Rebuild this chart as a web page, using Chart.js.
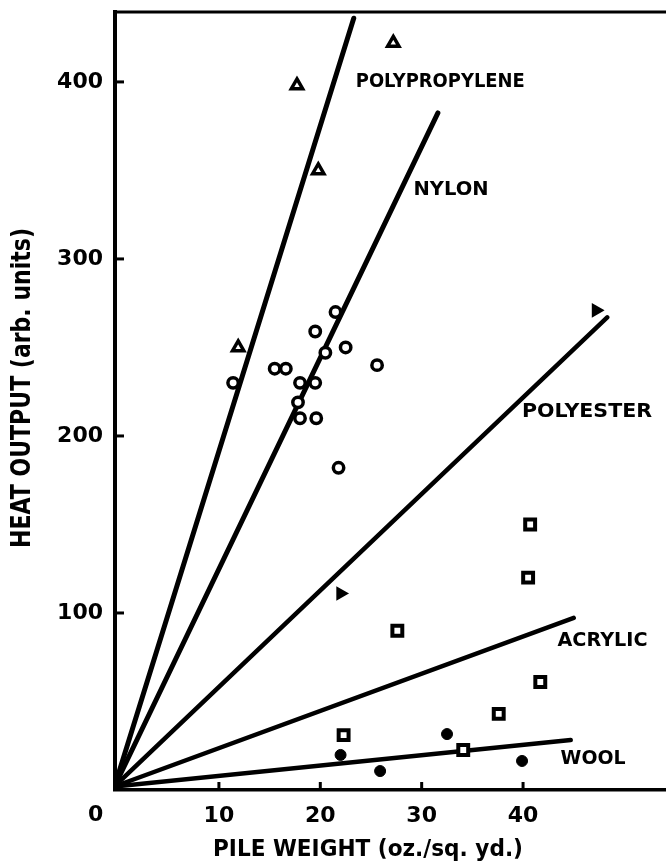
<!DOCTYPE html>
<html><head><meta charset="utf-8">
<script src="https://cdn.jsdelivr.net/npm/chart.js@4/dist/chart.umd.min.js"></script>
<style>html,body{margin:0;padding:0;background:#fff}canvas{display:block}</style>
</head><body>
<canvas id="c" width="666" height="864"></canvas>
<script>
// ---- data ----
const xTickValues = [10, 20, 30, 40];
const yTickValues = [100, 200, 300, 400];

const polypropyleneX = [17.7, 27.2, 19.8, 11.9];
const polypropyleneY = [398, 422, 350, 250];

const nylonX = [11.4, 15.5, 16.6, 18.0, 19.5, 17.8, 18.0, 19.6, 20.5, 19.5, 22.5, 21.5, 25.6, 21.8];
const nylonY = [230, 238, 238, 230, 230, 219, 210, 210, 247, 259, 250, 270, 240, 182];

const polyesterX = [47.2, 22.0];
const polyesterY = [271, 111];

const acrylicX = [40.7, 40.5, 27.6, 41.7, 37.6, 22.3, 34.1];
const acrylicY = [150, 120, 90, 61, 43, 31, 22.6];

const woolX = [22.0, 25.9, 32.5, 39.9];
const woolY = [19.8, 10.7, 31.6, 16.4];

const fitNames = ['POLYPROPYLENE', 'NYLON', 'POLYESTER', 'ACRYLIC', 'WOOL'];
const fitStartX = -0.3;
const fitStartY = 2;
const fitEndX = [23.3, 31.6, 48.3, 45.0, 44.7];
const fitEndY = [436, 382.5, 267, 97.2, 28.2];

const xTitle = 'PILE WEIGHT (oz./sq. yd.)';
const yTitle = 'HEAT OUTPUT (arb. units)';

// ---- label placement (data coords of left/middle of each curve label) ----
const labelAtX = [23.5, 29.2, 39.9, 43.4, 43.7];
const labelAtY = [400, 339, 213.6, 84.2, 17.5];
const labelWidths = [169, 75, 130, 90, 65];

const FONT = "'DejaVu Sans', 'Liberation Sans', sans-serif";

function pts(xs, ys) { return xs.map((x, i) => ({x: x, y: ys[i]})); }

const datasets = [];
fitNames.forEach((n, i) => {
  datasets.push({
    label: n + ' fit',
    data: [{x: fitStartX, y: fitStartY}, {x: fitEndX[i], y: fitEndY[i]}],
    showLine: true, borderColor: '#000', borderWidth: i < 2 ? 5 : 4.5,
    borderCapStyle: 'round', pointRadius: 0, order: 2
  });
});
datasets.push({label: 'Polypropylene', data: pts(polypropyleneX, polypropyleneY),
  pointStyle: 'triangle', pointRadius: 6.5, borderWidth: 3.5, borderColor: '#000', backgroundColor: '#fff', order: 1});
datasets.push({label: 'Nylon', data: pts(nylonX, nylonY),
  pointStyle: 'circle', pointRadius: 5.2, borderWidth: 3.5, borderColor: '#000', backgroundColor: '#fff', order: 1});
datasets.push({label: 'Polyester', data: pts(polyesterX, polyesterY),
  pointStyle: 'triangle', rotation: 90, pointRadius: 6.5, borderWidth: 2, borderColor: '#000', backgroundColor: '#000', order: 1});
datasets.push({label: 'Acrylic', data: pts(acrylicX, acrylicY),
  pointStyle: 'rect', pointRadius: 7, borderWidth: 4, borderColor: '#000', backgroundColor: '#fff', order: 1});
datasets.push({label: 'Wool', data: pts(woolX, woolY),
  pointStyle: 'circle', pointRadius: 5.5, borderWidth: 1, borderColor: '#000', backgroundColor: '#000', order: 1});

function fitText(ctx, text, x, y, width, size, align, rot) {
  ctx.save();
  ctx.font = 'bold ' + size + 'px ' + FONT;
  const w = ctx.measureText(text).width;
  ctx.translate(x, y);
  if (rot) ctx.rotate(rot);
  ctx.scale(width / w, 1);
  ctx.textAlign = align;
  ctx.textBaseline = 'middle';
  ctx.fillStyle = '#000';
  ctx.fillText(text, 0, 0);
  ctx.restore();
}

const decor = {
  id: 'decor',
  afterDraw(chart) {
    const ctx = chart.ctx, a = chart.chartArea;
    const xs = chart.scales.x, ys = chart.scales.y;
    ctx.save();
    ctx.strokeStyle = '#000';
    // top frame line
    ctx.lineWidth = 3;
    ctx.beginPath(); ctx.moveTo(a.left - 1, a.top); ctx.lineTo(a.right, a.top); ctx.stroke();
    // inward ticks
    ctx.lineWidth = 3;
    yTickValues.forEach(v => { const y = ys.getPixelForValue(v); ctx.beginPath(); ctx.moveTo(a.left, y); ctx.lineTo(a.left + 9, y); ctx.stroke(); });
    xTickValues.forEach(v => { const x = xs.getPixelForValue(v); ctx.beginPath(); ctx.moveTo(x, a.bottom); ctx.lineTo(x, a.bottom - 8); ctx.stroke(); });
    ctx.restore();
    // origin label
    ctx.save();
    ctx.font = 'bold 22px ' + FONT; ctx.fillStyle = '#000';
    ctx.textAlign = 'center'; ctx.textBaseline = 'middle';
    ctx.fillText('0', xs.getPixelForValue(0) - 22, a.bottom + 25);
    ctx.restore();
    // curve labels
    fitNames.forEach((n, i) => {
      fitText(ctx, n, xs.getPixelForValue(labelAtX[i]), ys.getPixelForValue(labelAtY[i]), labelWidths[i], 20, 'left');
    });
    // axis titles
    fitText(ctx, xTitle, 368, 850, 310, 23, 'center');
    fitText(ctx, yTitle, 23, 388, 320, 26, 'center', -Math.PI / 2);
  }
};

function noPad(s) { s.paddingTop = 0; s.paddingBottom = 0; s.paddingLeft = 0; s.paddingRight = 0; }

new Chart(document.getElementById('c'), {
  type: 'scatter',
  data: {datasets: datasets},
  options: {
    responsive: false, animation: false, devicePixelRatio: 1,
    layout: {autoPadding: false, padding: {top: 12, right: 0, left: 0, bottom: 0}},
    plugins: {legend: {display: false}, tooltip: {enabled: false}},
    scales: {
      x: {
        type: 'linear', position: 'bottom', min: -0.25, max: 54.1,
        afterBuildTicks: s => { s.ticks = xTickValues.map(v => ({value: v})); },
        afterFit: s => { s.height = 74; noPad(s); },
        grid: {display: false, drawTicks: false},
        border: {display: true, color: '#000', width: 3.5},
        ticks: {color: '#000', padding: 13, maxRotation: 0, font: {family: FONT, size: 22, weight: 'bold'}}
      },
      y: {
        type: 'linear', position: 'left', min: 0, max: 439.5,
        afterBuildTicks: s => { s.ticks = yTickValues.map(v => ({value: v})); },
        afterFit: s => { s.width = 115; noPad(s); },
        grid: {display: false, drawTicks: false},
        border: {display: true, color: '#000', width: 4},
        ticks: {color: '#000', padding: 12, font: {family: FONT, size: 22, weight: 'bold'}}
      }
    }
  },
  plugins: [decor]
});
</script>
</body></html>
